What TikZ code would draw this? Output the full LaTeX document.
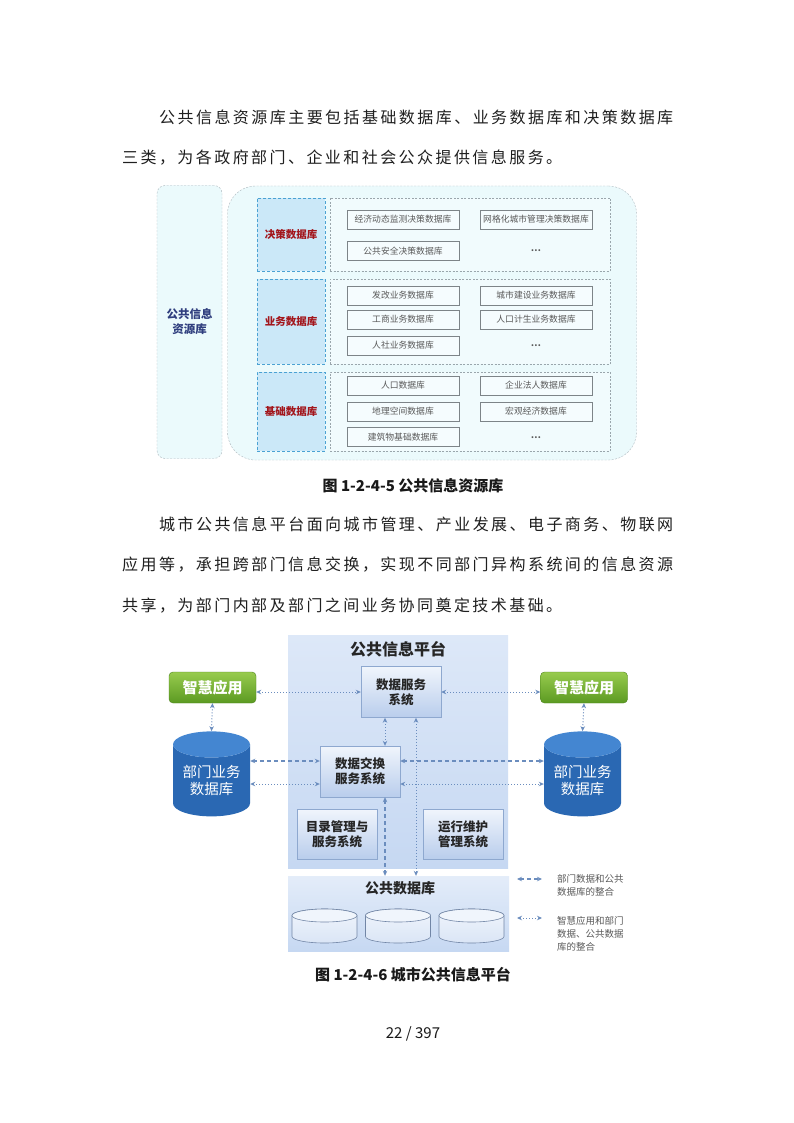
\documentclass[tikz,border=0pt]{standalone}
\usepackage{fontspec}
\setmainfont{Noto Sans CJK SC}
\usetikzlibrary{arrows.meta,shapes.geometric}
\def\spreadtok#1{\ifx#1\relax\else\hfil#1\expandafter\spreadtok\fi}
\def\spreadfirst#1{#1\spreadtok}
\newcommand\spread[2]{\hbox to #1pt{\spreadfirst#2\relax}}
\definecolor{panelcyan}{HTML}{EBFAFC}
\definecolor{panelline}{HTML}{AEB9BF}
\definecolor{arealine}{HTML}{9AA6AC}
\definecolor{tagblue}{HTML}{CBE8F8}
\definecolor{tagedge}{HTML}{4BA2D3}
\definecolor{tagred}{HTML}{A3161C}
\definecolor{itemedge}{HTML}{7D8488}
\definecolor{itemtext}{HTML}{595959}
\definecolor{navy}{HTML}{2F3E7E}
\definecolor{platTop}{HTML}{DDE8F8}
\definecolor{platBot}{HTML}{C6D8F2}
\definecolor{sysTop}{HTML}{F0F5FC}
\definecolor{sysBot}{HTML}{B9CDEC}
\definecolor{sysedge}{HTML}{8EA8CF}
\definecolor{linkblue}{HTML}{6B8DBE}
\definecolor{greentop}{HTML}{98CB4E}
\definecolor{greenbot}{HTML}{5B9A22}
\definecolor{dbbody}{HTML}{2A68B3}
\definecolor{dbtop}{HTML}{4486D1}
\tikzset{
  bodyline/.style={anchor=west, inner sep=0pt, text=black!88, font=\fontsize{16}{16}\selectfont},
  caption/.style={inner sep=0pt, text=black!90, font=\bfseries\fontsize{15}{15}\selectfont},
  panel/.style={draw=panelline, dash pattern=on 2pt off 1.5pt, fill=panelcyan},
  area/.style={draw=arealine, dash pattern=on 2pt off 1.5pt, fill=white!30!panelcyan, minimum width=280, inner sep=0pt},
  tagbox/.style={draw=tagedge, dash pattern=on 3pt off 2pt, fill=tagblue, minimum width=68, inner sep=0pt, text=tagred, font=\bfseries\fontsize{10.5}{12}\selectfont},
  itembox/.style={draw=itemedge, fill=white!50!panelcyan, minimum width=112, minimum height=19, inner sep=0pt, text=itemtext, font=\fontsize{8.8}{10}\selectfont},
  moredots/.style={inner sep=0pt, text=itemtext, font=\bfseries\fontsize{9}{10}\selectfont},
  sysbox/.style={draw=sysedge, top color=sysTop, bottom color=sysBot, minimum width=80, minimum height=51, inner sep=0pt, align=center, text=black!85, font=\bfseries\fontsize{12.5}{15}\selectfont},
  appbox/.style={draw=greenbot!85!black, rounded corners=4pt, top color=greentop, bottom color=greenbot, minimum width=87, minimum height=31, inner sep=0pt, text=white, font=\bfseries\fontsize{15}{15}\selectfont},
  deptdb/.style={cylinder, shape border rotate=90, aspect=0.45, minimum width=77, minimum height=85, inner sep=0pt, cylinder uses custom fill, cylinder body fill=dbbody, cylinder end fill=dbtop, draw=none, align=center, text=white, font=\fontsize{14.5}{17}\selectfont},
  storebody/.style={draw=sysedge!80!black, line width=0.6pt, top color=sysTop, bottom color=sysTop!60!sysBot},
  storetop/.style={draw=sysedge!80!black, line width=0.6pt, fill=sysTop},
  note/.style={anchor=west, inner sep=0pt, align=left, text=black!65, font=\fontsize{9.5}{13}\selectfont},
  dashlink/.style={<->, draw=linkblue, line width=1.1pt, dash pattern=on 4pt off 3pt},
  dotlink/.style={<->, draw=linkblue, line width=1pt, dotted},
}
\begin{document}
\begin{tikzpicture}[x=1pt, y=-1pt, >={Stealth[length=5pt,width=4.5pt]}]
\fill[white] (0,0) rectangle (794,1123);
\useasboundingbox (0,0) rectangle (794,1123);

\node[bodyline] (p1a) at (159,117) {\spread{514}{公共信息资源库主要包括基础数据库、业务数据库和决策数据库}};
\node[bodyline] (p1b) at (122,158) {\spread{440}{三类，为各政府部门、企业和社会公众提供信息服务。}};

\node[panel, rounded corners=8pt, minimum width=65, minimum height=273, align=center, text=navy, font=\bfseries\fontsize{11.5}{15}\selectfont] (rootbox) at (189.5,322) {公共信息\\资源库};
\node[panel, rounded corners=28pt, minimum width=409, minimum height=274] (layerpanel) at (432,323) {};

\node[tagbox, minimum height=73] (dectag) at (291,234.5) {决策数据库};
\node[area, minimum height=73] (decarea) at (470,234.5) {};
\node[itembox] (dec1) at (403,219.5) {经济动态监测决策数据库};
\node[itembox] (dec2) at (536,219.5) {网格化城市管理决策数据库};
\node[itembox] (dec3) at (403,251) {公共安全决策数据库};
\node[moredots] (decmore) at (536,251) {…};

\node[tagbox, minimum height=85] (bustag) at (291,321.5) {业务数据库};
\node[area, minimum height=85] (busarea) at (470,321.5) {};
\node[itembox] (bus1) at (403,295.5) {发改业务数据库};
\node[itembox] (bus2) at (536,295.5) {城市建设业务数据库};
\node[itembox] (bus3) at (403,319.5) {工商业务数据库};
\node[itembox] (bus4) at (536,319.5) {人口计生业务数据库};
\node[itembox] (bus5) at (403,345.5) {人社业务数据库};
\node[moredots] (busmore) at (536,346) {…};

\node[tagbox, minimum height=79] (basetag) at (291,411.5) {基础数据库};
\node[area, minimum height=79] (basearea) at (470,411.5) {};
\node[itembox] (base1) at (403,385.5) {人口数据库};
\node[itembox] (base2) at (536,385.5) {企业法人数据库};
\node[itembox] (base3) at (403,411.5) {地理空间数据库};
\node[itembox] (base4) at (536,411.5) {宏观经济数据库};
\node[itembox] (base5) at (403,437) {建筑物基础数据库};
\node[moredots] (basemore) at (536,438) {…};

\node[caption] (cap1) at (413,486) {图 1-2-4-5 公共信息资源库};

\node[bodyline] (p2a) at (159,524) {\spread{514}{城市公共信息平台面向城市管理、产业发展、电子商务、物联网}};
\node[bodyline] (p2b) at (122,565) {\spread{551}{应用等，承担跨部门信息交换，实现不同部门异构系统间的信息资源}};
\node[bodyline] (p2c) at (122,606) {\spread{440}{共享，为部门内部及部门之间业务协同奠定技术基础。}};

\node[top color=platTop, bottom color=platBot, minimum width=220, minimum height=233, inner sep=0pt] (platform) at (398,751.5) {};
\node[inner sep=0pt, text=black!85, font=\bfseries\fontsize{16}{16}\selectfont] (plattitle) at (398,649) {公共信息平台};
\node[sysbox] (dataservice) at (401,692) {数据服务\\系统};
\node[sysbox] (exchange) at (360,771.5) {数据交换\\服务系统};
\node[sysbox, minimum height=50] (catalog) at (337,834) {目录管理与\\服务系统};
\node[sysbox, minimum height=50] (opsmaint) at (463,834) {运行维护\\管理系统};

\node[appbox] (leftapp) at (212.5,687.5) {智慧应用};
\node[appbox] (rightapp) at (584,687.5) {智慧应用};
\node[deptdb] (leftdb) at (211.5,780.5) {部门业务\\数据库};
\node[deptdb] (rightdb) at (582.5,780.5) {部门业务\\数据库};

\node[top color=platTop!80!white, bottom color=platBot, minimum width=221, minimum height=75, inner sep=0pt] (pubdb) at (398.5,913.5) {};
\node[inner sep=0pt, text=black!85, font=\bfseries\fontsize{14}{14}\selectfont] (pubtitle) at (400,888) {公共数据库};
\foreach \cx in {324.5,398,471.5}{
  \draw[storebody] (\cx-32.5,915.5) -- (\cx-32.5,936.5) arc[start angle=180, end angle=0, x radius=32.5, y radius=6.5] -- (\cx+32.5,915.5) arc[start angle=0, end angle=-180, x radius=32.5, y radius=6.5] -- cycle;
  \draw[storetop] (\cx,915.5) ellipse[x radius=32.5, y radius=6.5];
}

\coordinate (exUp) at ([yshift=10.5pt]exchange.west);
\coordinate (exDown) at ([yshift=-12.5pt]exchange.west);
\coordinate (exUpR) at ([yshift=10.5pt]exchange.east);
\coordinate (exDownR) at ([yshift=-12.5pt]exchange.east);
\coordinate (exFoot) at ([xshift=25pt]exchange.south);
\coordinate (svFoot) at ([xshift=15pt]dataservice.south);

\draw[dotlink] (leftapp.east |- dataservice.west) -- (dataservice.west);
\draw[dotlink] (dataservice.east) -- (dataservice.east -| rightapp.west);
\draw[dotlink] (leftapp.south) -- (leftdb.north);
\draw[dotlink] (rightapp.south) -- (rightdb.north);
\draw[dashlink] (leftdb.east |- exUp) -- (exUp);
\draw[dotlink] (leftdb.east |- exDown) -- (exDown);
\draw[dashlink] (exUpR) -- (rightdb.west |- exUpR);
\draw[dotlink] (exDownR) -- (rightdb.west |- exDownR);
\draw[dotlink] (exchange.north -| exFoot) -- (dataservice.south -| exFoot);
\draw[dashlink] (exFoot) -- (pubdb.north -| exFoot);
\draw[dotlink] (svFoot) -- (pubdb.north -| svFoot);

\coordinate (keyA) at (517,879);
\coordinate (keyB) at (542,879);
\coordinate (keyC) at (517,918);
\coordinate (keyD) at (542,918);
\draw[dashlink] (keyA) -- (keyB);
\draw[dotlink] (keyC) -- (keyD);
\node[note] (dashnote) at (557,885.5) {部门数据和公共\\数据库的整合};
\node[note] (dotnote) at (557,934) {智慧应用和部门\\数据、公共数据\\库的整合};

\node[caption] (cap2) at (413,975) {图 1-2-4-6 城市公共信息平台};
\node[inner sep=0pt, text=black!90, font=\fontsize{15}{15}\selectfont] (pageno) at (413,1034) {22 / 397};
\end{tikzpicture}
\end{document}
